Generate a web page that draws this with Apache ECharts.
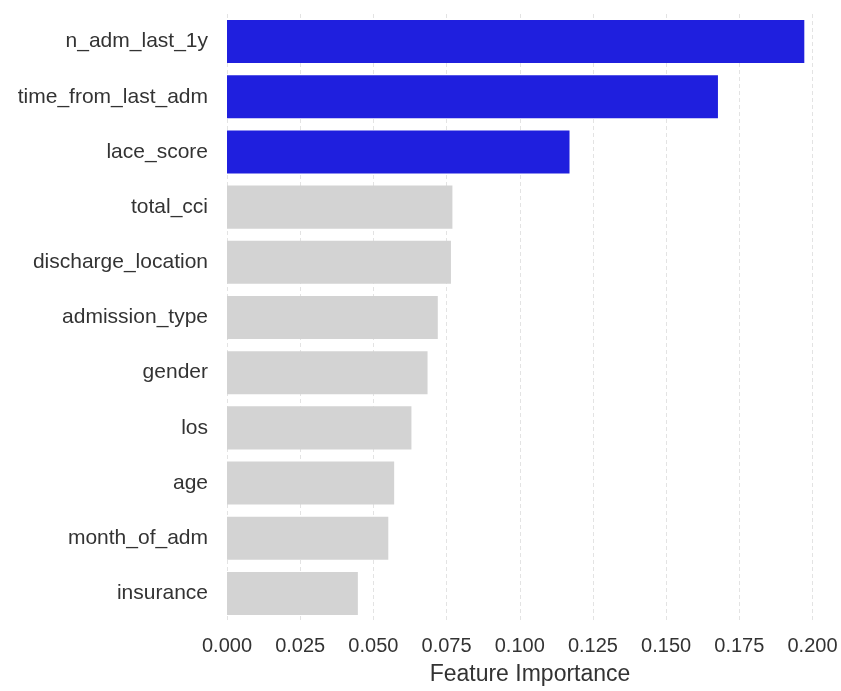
<!DOCTYPE html>
<html>
<head>
<meta charset="utf-8">
<script src="https://cdn.jsdelivr.net/npm/echarts@6/dist/echarts.min.js"></script>
<style>
html,body{margin:0;padding:0;background:#fff;}
#c{width:841px;height:691px;}
</style>
</head>
<body>
<div id="c"></div>
<script>
const features = ["n_adm_last_1y","time_from_last_adm","lace_score","total_cci","discharge_location","admission_type","gender","los","age","month_of_adm","insurance"];
const importance = [0.1972,0.1677,0.1170,0.0770,0.0765,0.0720,0.0685,0.0630,0.0571,0.0551,0.0447];
const highlighted = [true,true,true,false,false,false,false,false,false,false,false];
const xTicks = [0,0.025,0.05,0.075,0.1,0.125,0.15,0.175,0.2];
const xTitle = "Feature Importance";

const FONT = "Liberation Sans, Arial, sans-serif";
const chart = echarts.init(document.getElementById('c'));
chart.setOption({
  animation:false,
  backgroundColor:'#ffffff',
  grid:{left:227,right:8,top:14,bottom:68,containLabel:false},
  xAxis:{
    type:'value',min:0,max:0.207,interval:0.025,
    name:xTitle,nameLocation:'middle',nameGap:42,
    nameTextStyle:{fontFamily:FONT,fontSize:23,color:'#333333'},
    axisLine:{show:false},axisTick:{show:false},
    axisLabel:{fontFamily:FONT,fontSize:20,color:'#333333',margin:15,showMaxLabel:false,
      formatter:v=>xTicks.some(t=>Math.abs(t-v)<1e-9)?v.toFixed(3):''},
    splitLine:{show:true,showMaxLine:false,lineStyle:{color:'#e3e3e3',type:[4,3],width:1}}
  },
  yAxis:{
    type:'category',data:features,inverse:true,
    axisLine:{show:false},axisTick:{show:false},
    axisLabel:{fontFamily:FONT,fontSize:21,color:'#333333',margin:19},
    splitLine:{show:false}
  },
  series:[{
    type:'bar',barWidth:'78%',
    data:importance.map((v,i)=>({value:v,itemStyle:{color:highlighted[i]?'#1f1fde':'#d3d3d3'}}))
  }]
});
</script>
</body>
</html>
